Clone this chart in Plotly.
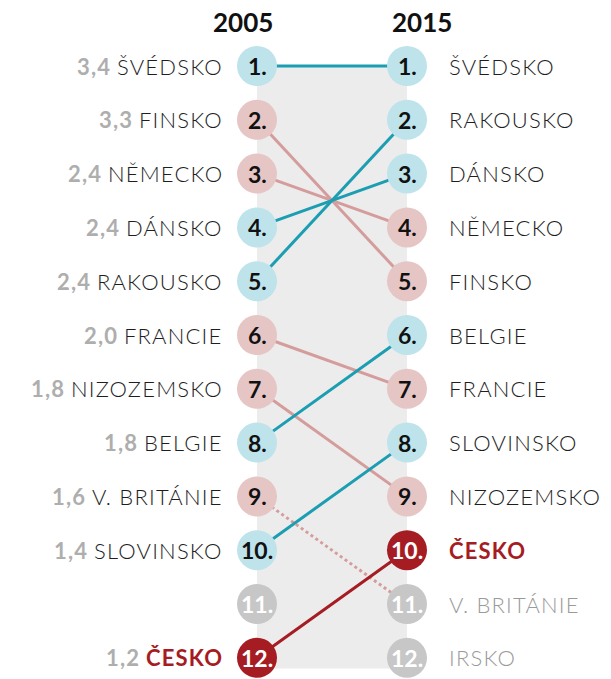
import plotly.graph_objects as go

# ---- data ----
countries = ["ŠVÉDSKO", "FINSKO", "NĚMECKO", "DÁNSKO", "RAKOUSKO", "FRANCIE",
             "NIZOZEMSKO", "BELGIE", "V. BRITÁNIE", "SLOVINSKO", "IRSKO", "ČESKO"]
rank_2005 = [1, 2, 3, 4, 5, 6, 7, 8, 9, 10, 11, 12]
rank_2015 = [1, 5, 4, 3, 2, 7, 9, 6, 11, 8, 12, 10]
value_2005 = ["3,4", "3,3", "2,4", "2,4", "2,4", "2,0", "1,8", "1,8", "1,6", "1,4", None, "1,2"]
years = ["2005", "2015"]
highlight = "ČESKO"
top_n = 10

# ---- styles ----
BLUE_C = "#bee3ea"
PINK_C = "#e6c5c5"
GRAY_C = "#c7c7c7"
RED = "#a51d23"
TEAL = "#1b9db2"
PINK_L = "#d59c9c"
TXT = "#1e1e1e"
VAL = "#aeaeae"
FONT = "Lato"
LS = "letter-spacing:1.2px"

W, H = 611, 679
X0_PX, X1_PX = 257, 407
Y1_PX, STEP = 66, 53.8

ppu = X1_PX - X0_PX
x_range = [-X0_PX / ppu, (W - X0_PX) / ppu]
y_top = 1 - Y1_PX / STEP
y_bot = 1 + (H - Y1_PX) / STEP


def status(i):
    if countries[i] == highlight:
        return "hl"
    return "up" if rank_2015[i] <= rank_2005[i] else "down"


def circle_color(i, year_idx):
    r = rank_2005[i] if year_idx == 0 else rank_2015[i]
    st = status(i)
    if st == "hl":
        return RED
    if r > top_n:
        return GRAY_C
    return BLUE_C if st == "up" else PINK_C


fig = go.Figure()

# background band
fig.add_shape(type="rect", xref="x", yref="y", x0=0, x1=1, y0=1, y1=12.2,
              fillcolor="#ececec", line_width=0, layer="below")

# slope lines
for i, c in enumerate(countries):
    if value_2005[i] is None:
        continue
    st = status(i)
    col = RED if st == "hl" else (TEAL if st == "up" else PINK_L)
    dash = "dot" if rank_2015[i] > top_n and st != "hl" else "solid"
    fig.add_trace(go.Scatter(x=[0, 1], y=[rank_2005[i], rank_2015[i]], mode="lines",
                             line=dict(color=col, width=3, dash=dash),
                             hoverinfo="skip", showlegend=False))

# circles
for yi, ranks in enumerate([rank_2005, rank_2015]):
    cols = [circle_color(i, yi) for i in range(len(countries))]
    tcols = ["white" if c in (RED, GRAY_C) else "#111111" for c in cols]
    fig.add_trace(go.Scatter(
        x=[yi] * len(countries), y=ranks, mode="markers",
        marker=dict(size=40, color=cols, line_width=0),
        hoverinfo="skip", showlegend=False))
    for r, tc in zip(ranks, tcols):
        fig.add_annotation(x=yi, y=r, xref="x", yref="y", text=f"<b>{r}.</b>",
                           showarrow=False, xanchor="center", yanchor="middle",
                           font=dict(family=FONT, size=23, color=tc, weight=900))

# labels
for i, c in enumerate(countries):
    if value_2005[i] is not None:
        if c == highlight:
            name = f"<b><span style='color:{RED};{LS}'>{c}</span></b>"
        else:
            name = f"<span style='{LS};font-weight:300'>{c}</span>"
        fig.add_annotation(x=-32 / ppu, y=rank_2005[i], xref="x", yref="y",
                           text=f"<b><span style='color:{VAL};{LS}'>{value_2005[i]}</span></b> {name}",
                           xanchor="right", yanchor="middle", showarrow=False,
                           font=dict(family=FONT, size=22, color=TXT))
    r = rank_2015[i]
    if c == highlight:
        txt, col = f"<b><span style='{LS}'>{c}</span></b>", RED
    elif r > top_n:
        txt, col = f"<span style='{LS};font-weight:300'>{c}</span>", "#9a9a9a"
    else:
        txt, col = f"<span style='{LS};font-weight:300'>{c}</span>", TXT
    fig.add_annotation(x=1 + 40 / ppu, y=r, xref="x", yref="y", text=txt,
                       xanchor="left", yanchor="middle", showarrow=False,
                       font=dict(family=FONT, size=22, color=col))

# year headers
for xp, yr in zip([243, 422], years):
    fig.add_annotation(x=xp / W, y=1 - 22 / H, xref="paper", yref="paper",
                       text=f"<b>{yr}</b>", showarrow=False, xanchor="center", yanchor="middle",
                       font=dict(family=FONT, size=26, color="#111111", weight=900))

fig.update_layout(
    width=W, height=H, margin=dict(l=0, r=0, t=0, b=0),
    paper_bgcolor="white", plot_bgcolor="white",
    xaxis=dict(range=x_range, visible=False, fixedrange=True),
    yaxis=dict(range=[y_bot, y_top], visible=False, fixedrange=True),
)

fig.write_html("out.html", config={"displayModeBar": False},
               post_script="document.body.style.margin='0';document.body.style.overflow='hidden';")
